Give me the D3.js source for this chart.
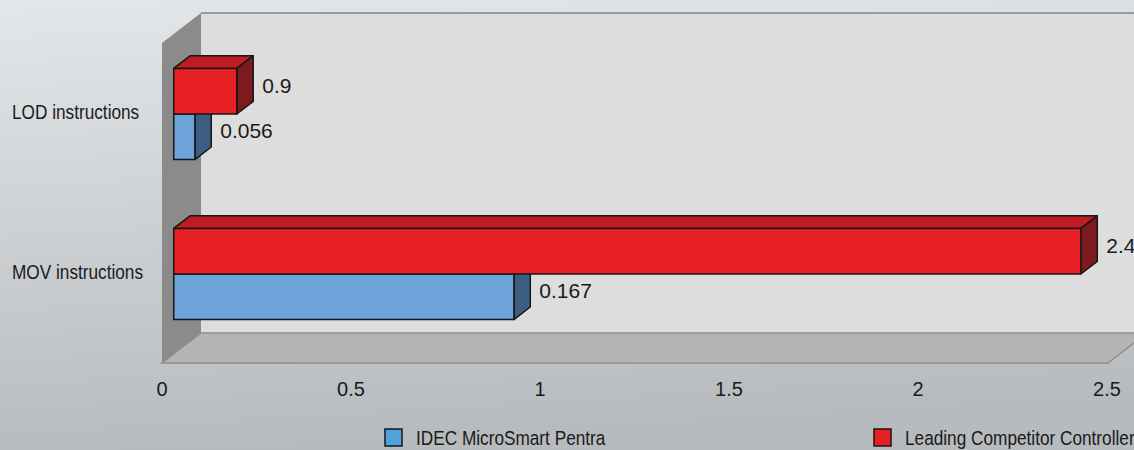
<!DOCTYPE html>
<html><head><meta charset="utf-8">
<script src="https://cdn.jsdelivr.net/npm/d3@7"></script>
<style>html,body{margin:0;padding:0;overflow:hidden;}svg{display:block;}</style>
</head><body>
<script>
// ---- data ----
const categories = ["LOD instructions", "MOV instructions"];
const seriesNames = ["IDEC MicroSmart Pentra", "Leading Competitor Controller"];
const idecValues = [0.056, 0.9];          // blue bar lengths
const competitorValues = [0.167, 2.4];    // red bar lengths
const idecLabels = ["0.056", "0.167"];    // printed labels (as shown)
const competitorLabels = ["0.9", "2.4"];
const xTicks = [0, 0.5, 1, 1.5, 2, 2.5];
const xTickLabels = ["0", "0.5", "1", "1.5", "2", "2.5"];

const W = 1134, H = 450;
const svg = d3.select("body").append("svg").attr("width", W).attr("height", H);

const defs = svg.append("defs");
const bg = defs.append("linearGradient").attr("id", "bg").attr("x1", 0).attr("y1", 0).attr("x2", 0.15).attr("y2", 1);
bg.append("stop").attr("offset", "0").attr("stop-color", "#e4e7ea");
bg.append("stop").attr("offset", "1").attr("stop-color", "#b7bbbe");
svg.append("rect").attr("width", W).attr("height", H).attr("fill", "url(#bg)");

// ---- scales ----
const x = d3.scaleLinear().domain([0, 2.5]).range([162, 1107]);
const y = d3.scaleBand().domain(categories).range([43, 363]).paddingInner(0.43).paddingOuter(0.215);
const ySub = d3.scaleBand().domain(["competitor", "idec"]).range([0, y.bandwidth()]);

const wallD = {dx: 39, dy: -30};
const frontOff = {dx: wallD.dx * 0.3, dy: wallD.dy * 0.3};
const barD = {dx: wallD.dx * 0.42, dy: wallD.dy * 0.42};

const x0 = x(0), x1 = x(2.5), yTop = y.range()[0], yBot = y.range()[1];

// back wall
svg.append("rect").attr("x", x0 + wallD.dx).attr("y", yTop + wallD.dy)
  .attr("width", x1 - x0 + 10).attr("height", yBot - yTop).attr("fill", "#dcdddc");
svg.append("line").attr("x1", x0 + wallD.dx).attr("x2", W).attr("y1", yTop + wallD.dy).attr("y2", yTop + wallD.dy)
  .attr("stroke", "#999a9b").attr("stroke-width", 2);
// side wall
svg.append("polygon").attr("points", [[x0, yTop], [x0 + wallD.dx, yTop + wallD.dy], [x0 + wallD.dx, yBot + wallD.dy], [x0, yBot]].join(" "))
  .attr("fill", "#8b8b8b");
// floor
svg.append("polygon").attr("points", [[x0, yBot], [x1 + 1, yBot], [x1 + 1 + wallD.dx, yBot + wallD.dy], [x0 + wallD.dx, yBot + wallD.dy]].join(" "))
  .attr("fill", "#b5b6b4").attr("stroke", "#8e8f8f").attr("stroke-width", 1.5);

// ---- bars ----
function bar3d(g, v, yf, h, cFront, cTop, cSide) {
  const xa = x(0) + frontOff.dx, xb = x(v) + frontOff.dx;
  const ya = yf + frontOff.dy, yb = ya + h;
  const st = {stroke: "#161616", "stroke-width": 1.5, "stroke-linejoin": "round"};
  const poly = (pts, fill) => {
    const p = g.append("polygon").attr("points", pts.join(" ")).attr("fill", fill);
    for (const k in st) p.attr(k, st[k]);
  };
  poly([[xa, ya], [xa + barD.dx, ya + barD.dy], [xb + barD.dx, ya + barD.dy], [xb, ya]], cTop);
  poly([[xb, ya], [xb + barD.dx, ya + barD.dy], [xb + barD.dx, yb + barD.dy], [xb, yb]], cSide);
  poly([[xa, ya], [xb, ya], [xb, yb], [xa, yb]], cFront);
  return {xEnd: xb + barD.dx, yMid: (ya + yb) / 2};
}

const gBars = svg.append("g");
const labelFont = "'Liberation Sans', Arial, sans-serif";
categories.forEach((c, i) => {
  const h = ySub.bandwidth();
  const bIdec = bar3d(gBars, idecValues[i], y(c) + ySub("idec"), h, "#6ca3d9", "#5585b8", "#3c5e82");
  const bComp = bar3d(gBars, competitorValues[i], y(c) + ySub("competitor"), h, "#e82024", "#be1b22", "#7d1a1e");
  [[bIdec, idecLabels[i]], [bComp, competitorLabels[i]]].forEach(([b, t]) => {
    svg.append("text").attr("x", b.xEnd + 9).attr("y", b.yMid - 6)
      .attr("dominant-baseline", "central").attr("font-family", labelFont)
      .attr("font-size", 21).attr("fill", "#1a1a1a").text(t);
  });
});

// condensed text helper (narrow look via horizontal scaling)
const narrow = 0.84;
function condText(g, tx, ty, str) {
  return g.append("text").attr("transform", `translate(${tx},${ty}) scale(${narrow},1)`)
    .attr("dominant-baseline", "central").attr("font-family", labelFont)
    .attr("font-size", 20.5).attr("fill", "#1a1a1a").text(str);
}

// category labels
const gCat = svg.append("g");
categories.forEach(c => condText(gCat, 12, y(c) + y.bandwidth() / 2 + frontOff.dy - 2, c));

// x tick labels
svg.append("g").selectAll("text").data(xTicks).join("text")
  .attr("x", d => x(d)).attr("y", 389).attr("text-anchor", "middle")
  .attr("dominant-baseline", "central").attr("font-family", labelFont)
  .attr("font-size", 20).attr("fill", "#1a1a1a").text((d, i) => xTickLabels[i]);

// legend
const legendX = [385, 874];
const legendFill = ["#4ea3de", "#e82024"];
const lg = svg.append("g");
seriesNames.forEach((s, i) => {
  lg.append("rect").attr("x", legendX[i]).attr("y", 429).attr("width", 17).attr("height", 17)
    .attr("fill", legendFill[i]).attr("stroke", "#161616").attr("stroke-width", 1.5);
  condText(lg, legendX[i] + 31, 438, s);
});
</script>
</body></html>
